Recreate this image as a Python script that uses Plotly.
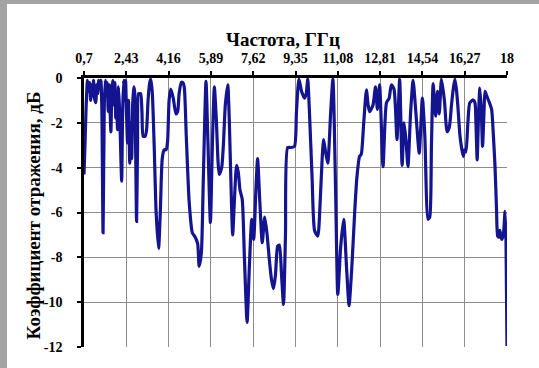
import plotly.graph_objects as go

freq_ghz = [
    0.70, 0.74, 0.78, 0.84, 0.88, 0.93, 0.97, 1.01, 1.05, 1.09, 1.13, 1.18, 1.22, 1.26, 1.30,
    1.34, 1.39, 1.43, 1.48, 1.53, 1.57, 1.61, 1.65, 1.69, 1.73, 1.80, 1.84, 1.88, 1.92, 1.96,
    2.00, 2.03, 2.07, 2.11, 2.15, 2.19, 2.24, 2.28, 2.32, 2.36, 2.40, 2.44, 2.48, 2.52, 2.57,
    2.61, 2.65, 2.69, 2.73, 2.77, 2.81, 2.85, 2.89, 2.93, 2.98, 3.02, 3.07, 3.12, 3.20, 3.26,
    3.32, 3.39, 3.43, 3.49, 3.57, 3.65, 3.75, 3.82, 3.90, 3.98, 4.06, 4.12, 4.18, 4.25, 4.35,
    4.46, 4.53, 4.59, 4.68, 4.74, 4.80, 4.88, 5.00, 5.13, 5.25, 5.35, 5.41, 5.50, 5.58, 5.69,
    5.76, 5.87, 5.95, 6.03, 6.11, 6.23, 6.33, 6.40, 6.48, 6.58, 6.64, 6.73, 6.78, 6.85, 6.94,
    7.01, 7.08, 7.17, 7.26, 7.37, 7.46, 7.56, 7.64, 7.73, 7.80, 7.89, 7.99, 8.09, 8.18, 8.28,
    8.37, 8.45, 8.53, 8.62, 8.69, 8.78, 8.86, 8.94, 9.03, 9.17, 9.31, 9.39, 9.49, 9.60, 9.72,
    9.79, 9.85, 9.92, 10.03, 10.13, 10.26, 10.36, 10.44, 10.50, 10.58, 10.67, 10.79, 10.88, 10.99, 11.08,
    11.20, 11.32, 11.44, 11.54, 11.65, 11.77, 11.86, 11.97, 12.04, 12.14, 12.25, 12.32, 12.38, 12.52, 12.62,
    12.70, 12.79, 12.93, 13.07, 13.18, 13.27, 13.38, 13.50, 13.61, 13.71, 13.79, 13.87, 13.95, 14.06, 14.16,
    14.27, 14.41, 14.54, 14.64, 14.77, 14.84, 14.91, 14.98, 15.08, 15.16, 15.23, 15.32, 15.44, 15.55, 15.64,
    15.73, 15.80, 15.87, 15.94, 16.00, 16.07, 16.14, 16.21, 16.26, 16.32, 16.40, 16.48, 16.62, 16.69, 16.73,
    16.78, 16.84, 16.89, 16.95, 17.00, 17.06, 17.10, 17.17, 17.28, 17.37, 17.44, 17.51, 17.57, 17.62, 17.67,
    17.71, 17.78, 17.85, 17.92, 17.96, 18.00,
]

reflection_db = [
    -4.3, -3.0, -1.5, -0.1, -0.6, -0.2, -1.0, -0.3, -0.8, -0.1, -0.9, -1.1, -0.3, -0.7, -0.1,
    -0.5, -0.1, -1.4, -6.9, -1.2, -0.1, -0.8, -0.2, -1.5, -0.3, -2.4, -0.5, -0.1, -1.2, -0.2,
    -1.8, -0.7, -2.3, -0.4, -1.3, -2.8, -4.6, -1.5, -0.1, -1.0, -0.1, -1.6, -2.9, -1.0, -3.8,
    -2.0, -3.6, -1.2, -0.4, -0.6, -3.0, -6.4, -3.0, -0.7, -0.7, -0.7, -1.5, -2.6, -2.6, -2.3,
    -1.0, -0.2, -0.05, -0.6, -3.0, -6.0, -7.6, -6.0, -3.6, -3.2, -3.2, -2.8, -1.0, -0.5, -0.9,
    -1.6, -1.5, -0.7, -0.2, -0.2, -0.4, -2.5, -5.5, -6.9, -7.1, -7.4, -8.4, -7.8, -4.5, -0.15,
    -2.5, -6.45, -3.0, -0.4, -1.8, -4.3, -4.0, -3.0, -1.2, -0.3, -1.8, -5.5, -7.0, -5.5, -3.9,
    -4.2, -5.0, -5.4, -8.0, -10.9, -8.5, -6.3, -7.2, -5.0, -3.6, -5.5, -7.35, -6.2, -6.9, -8.1,
    -9.0, -9.4, -8.8, -7.5, -7.45, -8.8, -10.1, -7.0, -3.1, -3.1, -3.05, -1.5, -0.05, -0.6, -0.9,
    -0.7, -0.05, -1.5, -4.5, -6.8, -7.05, -5.5, -3.6, -2.75, -3.3, -3.8, -1.5, -0.05, -5.0, -9.65,
    -7.5, -6.3, -8.5, -10.15, -8.5, -6.0, -4.45, -3.5, -3.4, -2.0, -0.53, -1.2, -1.5, -1.2, -0.4,
    -1.4, -0.3, -3.95, -1.1, -0.9, -0.3, -0.5, -2.75, -0.05, -3.9, -2.0, -2.8, -3.95, -1.5, -0.1,
    -1.5, -3.35, -0.9, -2.6, -6.3, -6.2, -3.0, -0.25, -1.7, -0.6, -1.6, -0.05, -1.0, -2.4, -2.2,
    -1.2, -0.5, -0.05, -0.6, -1.4, -2.5, -3.1, -3.5, -3.2, -3.3, -2.0, -1.1, -0.98, -1.1, -2.0,
    -3.65, -1.5, -0.45, -1.5, -3.05, -1.5, -0.6, -0.8, -1.1, -1.4, -2.5, -3.95, -5.8, -7.05, -7.1,
    -6.8, -7.2, -7.0, -5.95, -7.3, -11.95,
]

x_tick_vals = [0.7, 2.43, 4.16, 5.89, 7.62, 9.35, 11.08, 12.81, 14.54, 16.27, 18]
x_tick_text = ["0,7", "2,43", "4,16", "5,89", "7,62", "9,35", "11,08", "12,81", "14,54", "16,27", "18"]
y_tick_vals = [0, -2, -4, -6, -8, -10, -12]
y_tick_text = ["0", "-2", "-4", "-6", "-8", "-10", "-12"]

x_title = "Частота, ГГц"
y_title = "Коэффициент отражения, дБ"

FONT = "Liberation Serif, DejaVu Serif, serif"

fig = go.Figure()
fig.add_trace(go.Scatter(
    x=freq_ghz, y=reflection_db, mode="lines",
    line=dict(color="#141490", width=3.2, shape="spline", smoothing=0.6),
    hoverinfo="skip", showlegend=False,
))

fig.update_layout(
    width=539, height=368,
    margin=dict(l=84, r=32, t=78, b=21, autoexpand=False),
    paper_bgcolor="#a3a3a3", plot_bgcolor="white",
    font=dict(family=FONT, color="black"),
    xaxis=dict(
        side="top", range=[0.7, 18], tickvals=x_tick_vals, ticktext=x_tick_text,
        showgrid=True, gridcolor="#8c8c8c", gridwidth=1,
        showline=True, linecolor="black", linewidth=2.5,
        ticks="outside", ticklen=4, tickcolor="black", tickwidth=1.5,
        ticklabelstandoff=3,
        tickfont=dict(family=FONT, size=14, color="black", weight="bold"),
        zeroline=False, fixedrange=True, automargin=False,
    ),
    yaxis=dict(
        range=[-12, 0], tickvals=y_tick_vals, ticktext=y_tick_text,
        showgrid=True, gridcolor="#8c8c8c", gridwidth=1,
        showline=True, linecolor="black", linewidth=2.5,
        ticks="outside", ticklen=4, tickcolor="black", tickwidth=1.5,
        ticklabelstandoff=12,
        tickfont=dict(family=FONT, size=14, color="black", weight="bold"),
        zeroline=False, fixedrange=True, automargin=False,
    ),
    annotations=[
        dict(text=x_title, xref="paper", yref="paper", x=0.47, y=1.143,
             xanchor="center", yanchor="middle", showarrow=False,
             font=dict(family=FONT, size=19, color="black", weight="bold")),
        dict(text=y_title, xref="paper", yref="paper", x=-0.12, y=0.49,
             xanchor="center", yanchor="middle", showarrow=False, textangle=-90,
             font=dict(family=FONT, size=19, color="black", weight="bold")),
    ],
    shapes=[
        dict(type="rect", xref="paper", yref="paper", x0=-0.182, x1=1.1, y0=-0.12, y1=1.275,
             fillcolor="white", line=dict(width=0), layer="below"),
    ],
)

fig.write_html("out.html", post_script="document.body.style.margin='0';",
               config={"displayModeBar": False})
